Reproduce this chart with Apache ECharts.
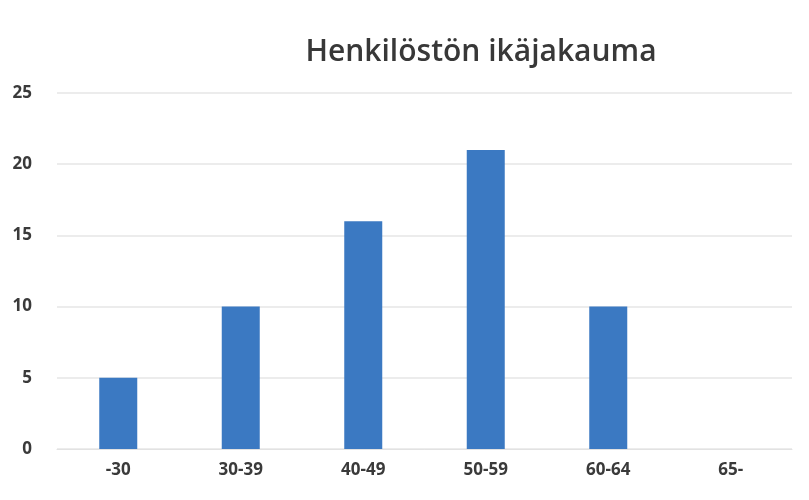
<!DOCTYPE html>
<html><head><meta charset="utf-8">
<script src="https://cdn.jsdelivr.net/npm/echarts@6/dist/echarts.min.js"></script>
<style>html,body{margin:0;padding:0;background:#fff}#c{width:809px;height:500px}</style>
</head><body><div id="c"></div>
<script>
const titleText = "Henkilöstön ikäjakauma";
const categories = ["-30", "30-39", "40-49", "50-59", "60-64", "65-"];
const values = [5, 10, 16, 21, 10, 0];
const yTicks = { min: 0, max: 25, interval: 5 };

const chart = echarts.init(document.getElementById('c'));
chart.setOption({
  animation: false,
  backgroundColor: '#fff',
  title: {
    text: titleText, left: 476, top: 32, textAlign: 'center',
    textStyle: { fontFamily: 'Open Sans', fontSize: 30, fontWeight: 600, color: '#383838' }
  },
  grid: { left: 57, right: 17, top: 93, bottom: 51 },
  xAxis: {
    type: 'category', data: categories,
    axisLine: { show: true, lineStyle: { color: '#e2e2e2' } },
    axisTick: { show: false },
    axisLabel: { margin: 13, fontFamily: 'Open Sans', fontSize: 17, fontWeight: 'bold', color: '#3a3a3a' }
  },
  yAxis: {
    type: 'value', min: yTicks.min, max: yTicks.max, interval: yTicks.interval,
    axisLine: { show: false }, axisTick: { show: false },
    splitLine: { lineStyle: { color: '#e6e6e6', width: 1.5 } },
    axisLabel: { margin: 25, fontFamily: 'Open Sans', fontSize: 17, fontWeight: 'bold', color: '#3a3a3a' }
  },
  series: [{
    type: 'bar', data: values, barWidth: 38,
    itemStyle: { color: '#3b79c2' }
  }]
});
</script></body></html>
